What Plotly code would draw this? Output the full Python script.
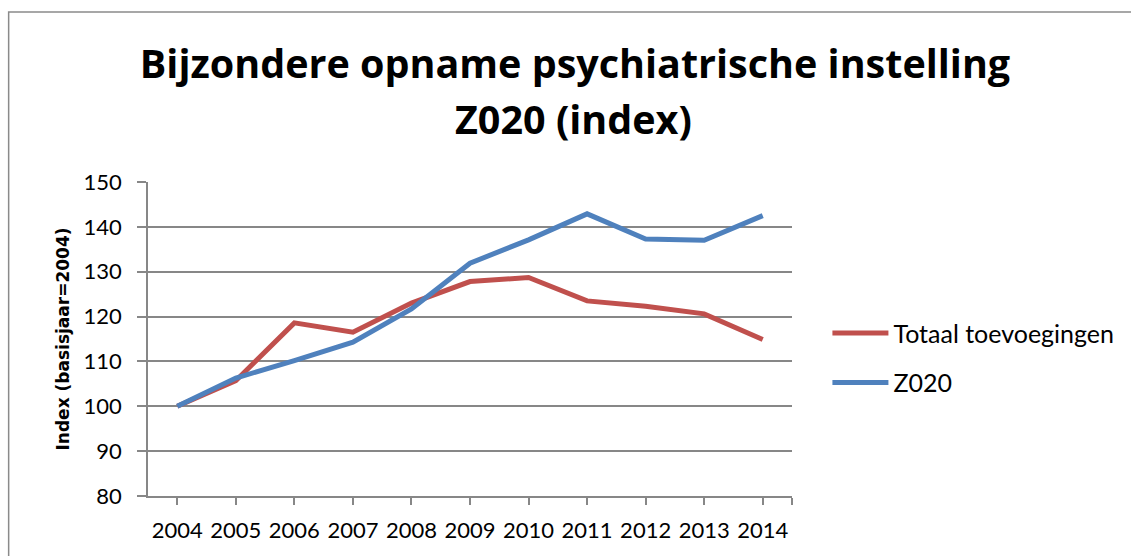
import plotly.graph_objects as go

years = [2004, 2005, 2006, 2007, 2008, 2009, 2010, 2011, 2012, 2013, 2014]
totaal = [100, 105.7, 118.6, 116.5, 123.0, 127.8, 128.7, 123.5, 122.3, 120.6, 114.9]
z2020 = [100, 106.3, 110.2, 114.3, 121.7, 131.9, 137.1, 142.9, 137.3, 137.0, 142.5]
y_ticks = [80, 90, 100, 110, 120, 130, 140, 150]
title_line1 = "Bijzondere opname psychiatrische instelling"
title_line2 = "Z020 (index)"

FONT = "Lato"
TFONT = "Open Sans"
GRID = "#878787"
W, H = 1131, 556

fig = go.Figure()
fig.add_trace(go.Scatter(x=years, y=totaal, mode="lines", name="Totaal toevoegingen",
                         legendgroup="a", line=dict(color="#C0504D", width=5)))
fig.add_trace(go.Scatter(x=years, y=z2020, mode="lines", name="Z020",
                         legendgroup="b", line=dict(color="#4F81BD", width=5)))

tickvals = years + [2014.5]
ticktext = [str(y) for y in years] + [""]

fig.update_layout(
    width=W, height=H,
    margin=dict(l=148, r=336, t=182, b=60),
    paper_bgcolor="white", plot_bgcolor="white",
    font=dict(family=FONT, color="black", size=22),
    title=dict(text="<b>" + title_line1 + "</b>",
               x=575 / W, xanchor="center", xref="container",
               y=1 - 64 / H, yanchor="middle", yref="container",
               font=dict(family=TFONT, size=39.5, color="black")),
    annotations=[dict(text="<b>" + title_line2 + "</b>", xref="paper", yref="paper",
                      x=(575 - 148) / 647, y=(496 - 119) / 314, xanchor="center", yanchor="middle",
                      showarrow=False, font=dict(family=TFONT, size=39.5, color="black"))],
    xaxis=dict(range=[2003.5, 2014.5], tickvals=tickvals, ticktext=ticktext,
               showgrid=False, showline=True, linecolor=GRID, linewidth=1.5,
               ticks="outside", ticklen=7, tickcolor=GRID, tickwidth=1.5,
               ticklabelstandoff=7,
               tickfont=dict(family=FONT, size=22), zeroline=False),
    yaxis=dict(range=[80, 150], tickvals=y_ticks, showgrid=True, gridcolor=GRID, gridwidth=1.8,
               showline=True, linecolor=GRID, linewidth=1.5,
               ticks="outside", ticklen=9, tickcolor=GRID, tickwidth=1.5,
               ticklabelstandoff=11,
               tickfont=dict(family=FONT, size=22), zeroline=False,
               title=dict(text="<b>Index (basisjaar=2004)</b>",
                          font=dict(family="DejaVu Sans", size=17), standoff=10)),
    legend=dict(x=1.055, xanchor="left", y=0.44, yanchor="middle",
                font=dict(family=FONT, size=25), itemwidth=56, tracegroupgap=14,
                bgcolor="rgba(0,0,0,0)"),
    shapes=[dict(type="rect", xref="paper", yref="paper",
                 x0=(8 - 148) / 647, x1=(1140 - 148) / 647, y0=(496 - 570) / 314, y1=(496 - 12) / 314,
                 line=dict(color="#8a8a8a", width=1.5), fillcolor="rgba(0,0,0,0)", layer="below")],
)

fig.write_html("out.html", config={"displayModeBar": False},
               post_script="document.body.style.margin='0';")
